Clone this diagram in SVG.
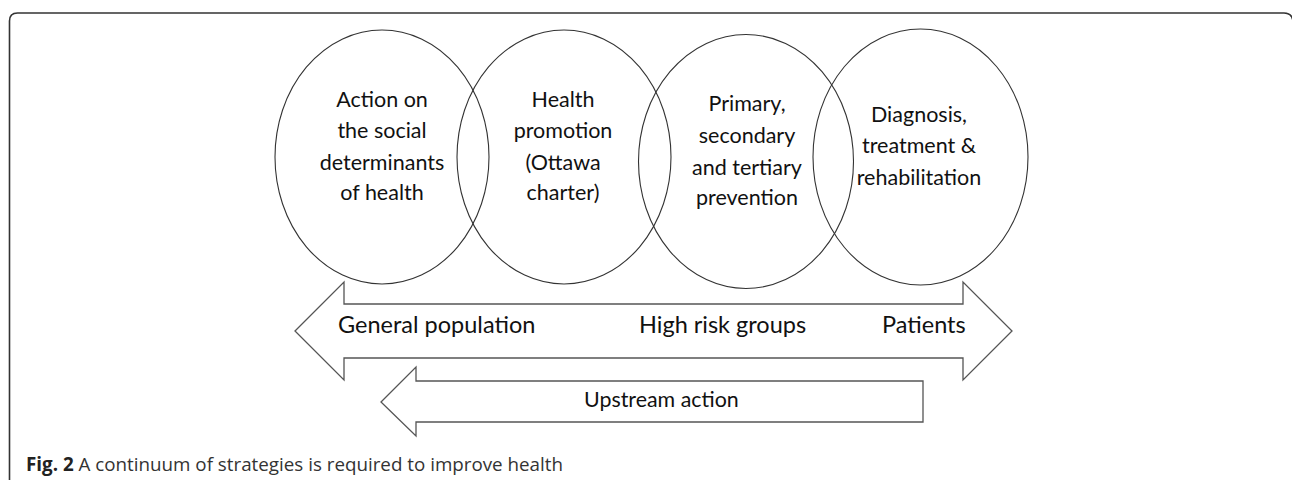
<svg xmlns="http://www.w3.org/2000/svg" width="1292" height="480" viewBox="0 0 1292 480">
<style>
.frame{fill:none;stroke:#333;stroke-width:1.6}
.c{fill:none;stroke:#333;stroke-width:1.1}
.ar{fill:#fff;stroke:#555;stroke-width:1.3}
.t{font-family:Lato,"Open Sans",sans-serif;font-size:21.5px;fill:#111;text-anchor:middle}
.lb{font-family:Lato,"Open Sans",sans-serif;font-size:23.5px;fill:#111}
.up{font-family:Lato,"Open Sans",sans-serif;font-size:21.4px;fill:#111}
.cap{font-family:"Open Sans",sans-serif;font-size:18.8px;fill:#333}
</style>
<rect width="1292" height="480" fill="#fff"/>
<path class="frame" d="M9.5,485 V21 Q9.5,13 17.5,13 H1284 Q1292,13 1293,21 V485"/>
<g id="connectors">
<polygon id="continuum" class="ar" points="295,331 344,282 344,304 963,304 963,282 1012,331 963,380 963,358 344,358 344,380"/>
<polygon id="upstream" class="ar" points="381,402 416,367 416,381 923,381 923,422 416,422 416,436"/>
</g>
<g id="n1"><ellipse class="c" cx="382" cy="157" rx="107" ry="127"/>
<text class="t" x="382" y="107">Action on</text><text class="t" x="382" y="138">the social</text><text class="t" x="382" y="170">determinants</text><text class="t" x="382" y="200">of health</text></g>
<g id="n2"><ellipse class="c" cx="564" cy="157" rx="107" ry="127"/>
<text class="t" x="563" y="107">Health</text><text class="t" x="563" y="138">promotion</text><text class="t" x="563" y="170">(Ottawa</text><text class="t" x="563" y="200">charter)</text></g>
<g id="n3"><ellipse class="c" cx="746" cy="161.5" rx="107.5" ry="127"/>
<text class="t" x="747" y="111">Primary,</text><text class="t" x="747" y="143">secondary</text><text class="t" x="747" y="175">and tertiary</text><text class="t" x="747" y="205">prevention</text></g>
<g id="n4"><ellipse class="c" cx="920.5" cy="157" rx="107.5" ry="128"/>
<text class="t" x="919" y="122">Diagnosis,</text><text class="t" x="919" y="153">treatment &amp;</text><text class="t" x="919" y="185">rehabilitation</text></g>
<g id="labels">
<text class="lb" x="338" y="333">General population</text>
<text class="lb" x="639" y="333">High risk groups</text>
<text class="lb" x="882" y="333">Patients</text>
<text class="up" x="584" y="407">Upstream action</text>
</g>
<text class="cap" x="26" y="471"><tspan font-weight="bold" fill="#222">Fig. 2</tspan> A continuum of strategies is required to improve health</text>
</svg>
